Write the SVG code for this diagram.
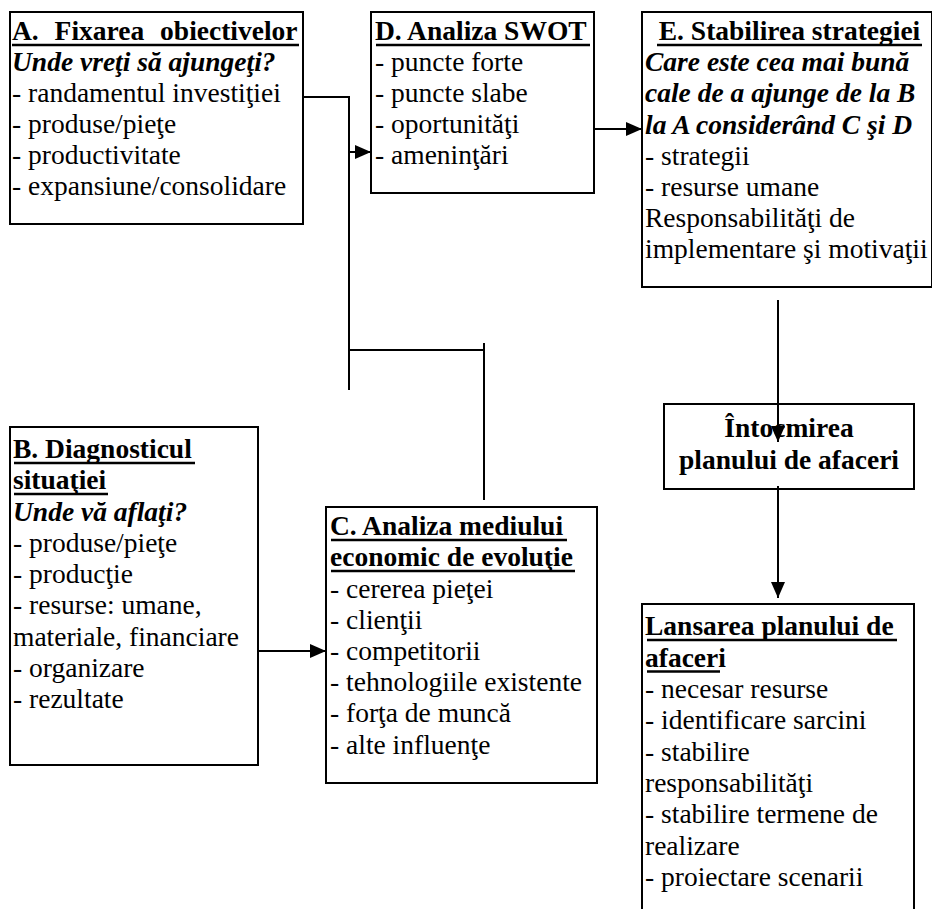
<svg xmlns="http://www.w3.org/2000/svg" width="932" height="909" viewBox="0 0 932 909">
<style>
.box{fill:#fff;stroke:#000;stroke-width:2}
text{font-family:"Liberation Serif","Times New Roman",Tinos,"DejaVu Serif","Noto Serif",serif;font-size:27.5px;fill:#000}
.b{font-weight:bold}
.bi{font-weight:bold;font-style:italic}
.ul{stroke:#000;stroke-width:2.5}
.c{fill:none;stroke:#000;stroke-width:2}
</style>
<defs>
<marker id="ah" viewBox="0 0 16 14" refX="16" refY="7" markerWidth="16" markerHeight="14" markerUnits="userSpaceOnUse" orient="auto">
<path d="M0,0 L16,7 L0,14 z" fill="#000"/>
</marker>
</defs>
<rect width="932" height="909" fill="#fff"/>

<g id="nodeA">
<rect class="box" x="10" y="12" width="293" height="212"/>
<text class="b" x="12" y="40" word-spacing="9">A. Fixarea obiectivelor</text>
<line class="ul" x1="12" y1="45" x2="299" y2="45"/>
<text class="bi" x="12" y="71">Unde vreţi să ajungeţi?</text>
<text x="12" y="102">- randamentul investiţiei</text>
<text x="12" y="133">- produse/pieţe</text>
<text x="12" y="164">- productivitate</text>
<text x="12" y="195">- expansiune/consolidare</text>
</g>

<g id="nodeD">
<rect class="box" x="371" y="12" width="223" height="181"/>
<text class="b" x="375" y="40">D. Analiza SWOT</text>
<line class="ul" x1="376" y1="45" x2="590" y2="45"/>
<text x="375" y="71">- puncte forte</text>
<text x="375" y="102">- puncte slabe</text>
<text x="375" y="133">- oportunităţi</text>
<text x="375" y="164">- ameninţări</text>
</g>

<g id="nodeE">
<rect class="box" x="642" y="12" width="290" height="275"/>
<text class="b" x="789.5" y="40" text-anchor="middle">E. Stabilirea strategiei</text>
<line class="ul" x1="657" y1="45" x2="922" y2="45"/>
<text class="bi" x="645" y="71">Care este cea mai bună</text>
<text class="bi" x="645" y="102">cale de a ajunge de la B</text>
<text class="bi" x="645" y="134">la A considerând C şi D</text>
<text x="645" y="165">- strategii</text>
<text x="645" y="196">- resurse umane</text>
<text x="645" y="227">Responsabilităţi de</text>
<text x="645" y="258">implementare şi motivaţii</text>
</g>

<g id="nodeB">
<rect class="box" x="10" y="427" width="248" height="338"/>
<text class="b" x="13" y="458">B. Diagnosticul</text>
<line class="ul" x1="14" y1="463" x2="195" y2="463"/>
<text class="b" x="13" y="489">situaţiei</text>
<line class="ul" x1="14" y1="494" x2="108" y2="494"/>
<text class="bi" x="13" y="520.5">Unde vă aflaţi?</text>
<text x="13" y="552">- produse/pieţe</text>
<text x="13" y="583">- producţie</text>
<text x="13" y="614">- resurse: umane,</text>
<text x="13" y="645.5">materiale, financiare</text>
<text x="13" y="677">- organizare</text>
<text x="13" y="708">- rezultate</text>
</g>

<g id="nodeC">
<rect class="box" x="326" y="507" width="271" height="276"/>
<text class="b" x="330" y="535">C. Analiza mediului</text>
<line class="ul" x1="331" y1="540" x2="567" y2="540"/>
<text class="b" x="330" y="566">economic de evoluţie</text>
<line class="ul" x1="331" y1="571" x2="575" y2="571"/>
<text x="330" y="597.5">- cererea pieţei</text>
<text x="330" y="628.5">- clienţii</text>
<text x="330" y="660">- competitorii</text>
<text x="330" y="691">- tehnologiile existente</text>
<text x="330" y="722">- forţa de muncă</text>
<text x="330" y="753.5">- alte influenţe</text>
</g>

<g id="nodePlan">
<rect class="box" x="664" y="404" width="250" height="85"/>
<text class="b" x="789" y="437" text-anchor="middle">Întocmirea</text>
<text class="b" x="789" y="469" text-anchor="middle">planului de afaceri</text>
</g>

<g id="nodeLaunch">
<rect class="box" x="642" y="604" width="272" height="330"/>
<text class="b" x="645" y="635">Lansarea planului de</text>
<line class="ul" x1="647" y1="640" x2="897" y2="640"/>
<text class="b" x="645" y="666.5">afaceri</text>
<line class="ul" x1="647" y1="671.5" x2="720" y2="671.5"/>
<text x="645" y="698">- necesar resurse</text>
<text x="645" y="729">- identificare sarcini</text>
<text x="645" y="760.5">- stabilire</text>
<text x="645" y="792">responsabilităţi</text>
<text x="645" y="823">- stabilire termene de</text>
<text x="645" y="854.5">realizare</text>
<text x="645" y="886">- proiectare scenarii</text>
</g>

<g id="connectors">
<polyline class="c" points="303,97 349,97 349,390"/>
<line class="c" x1="349" y1="152" x2="371" y2="152" marker-end="url(#ah)"/>
<line class="c" x1="349" y1="350" x2="484" y2="350"/>
<line class="c" x1="484" y1="343" x2="484" y2="500"/>
<line class="c" x1="258" y1="651" x2="326" y2="651" marker-end="url(#ah)"/>
<line class="c" x1="594" y1="129" x2="642" y2="129" marker-end="url(#ah)"/>
<line class="c" x1="778" y1="300" x2="778" y2="442" marker-end="url(#ah)"/>
<line class="c" x1="778" y1="486" x2="778" y2="598" marker-end="url(#ah)"/>
</g>
</svg>
